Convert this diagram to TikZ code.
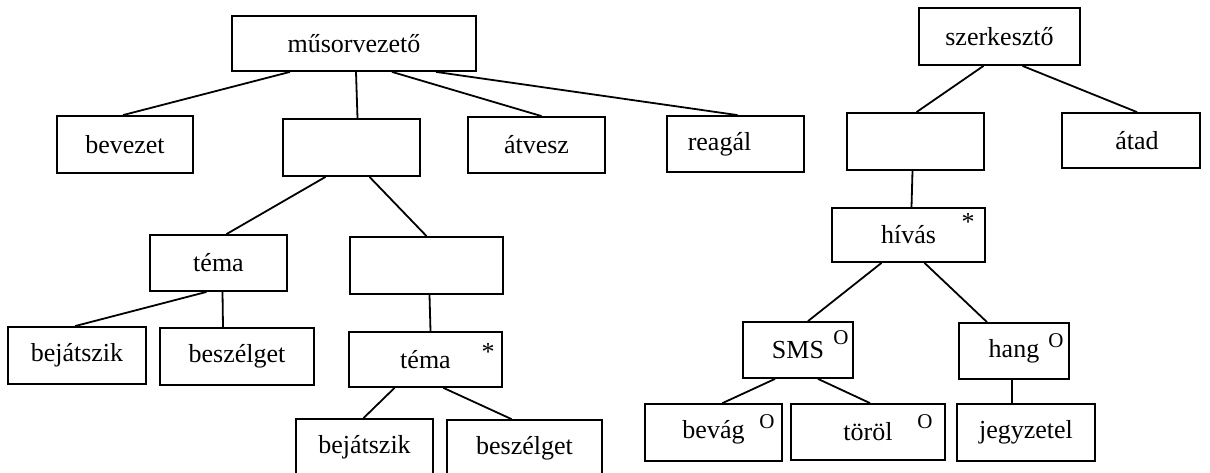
\documentclass[tikz,border=0pt]{standalone}
\usepackage{fontspec}
\setmainfont{Liberation Serif}
\usetikzlibrary{positioning, calc}

\begin{document}
\begin{tikzpicture}[
    x=1pt, y=-1pt,
    box/.style={rectangle, draw=black, line width=1.8pt, inner sep=0pt, font=\fontsize{26}{30}\selectfont},
    omark/.style={inner sep=0pt, font=\fontsize{21}{24}\selectfont},
    star/.style={inner sep=0pt, font=\fontsize{26}{30}\selectfont},
    link/.style={line width=1.8pt},
]
\path[use as bounding box, clip] (0,0) rectangle (1210,472);
% MUSORVEZETO
\node[box, minimum width=244pt, minimum height=55pt] (mu) at (354,43.5) {műsorvezető};
\node[box, minimum width=136pt, minimum height=57pt] (bev) at (125,144.5) {bevezet};
\node[box, minimum width=137pt, minimum height=57pt] (b1) at (351.5,147.5) {};
\node[box, minimum width=137pt, minimum height=56pt] (atv) at (536.5,145) {átvesz};
\node[box, minimum width=137pt, minimum height=56pt] (rea) at (735.5,144) {\hspace*{-32pt}reagál};
\node[box, minimum width=137pt, minimum height=56pt] (tem1) at (218.5,263) {téma};
\node[box, minimum width=153pt, minimum height=57pt] (b2) at (426.5,265.5) {};
\node[box, minimum width=138pt, minimum height=57pt] (bej1) at (77,355.5) {bejátszik};
\node[box, minimum width=154pt, minimum height=57pt] (besz1) at (237,356.5) {beszélget};
\node[box, minimum width=153pt, minimum height=55pt] (tem2) at (425.5,359.5) {téma};
\node[star] (tem2-s) at (488,352) {*};
\node[box, minimum width=137pt, minimum height=56pt] (bej2) at (364.5,447) {bejátszik};
\node[box, minimum width=155pt, minimum height=56pt] (besz2) at (524.5,448) {beszélget};
% Vonalak
\draw[link] ([xshift=-64pt]mu.south) -- ([xshift=-2pt]bev.north);
\draw[link] ([xshift=2pt]mu.south) -- ([xshift=6pt]b1.north);
\draw[link] ([xshift=38pt]mu.south) -- ([xshift=5pt]atv.north);
\draw[link] ([xshift=82pt]mu.south) -- ([xshift=2pt]rea.north);
\draw[link] ([xshift=-26pt]b1.south) -- ([xshift=8pt]tem1.north);
\draw[link] ([xshift=18pt]b1.south) -- (b2.north);
\draw[link] ([xshift=-12pt]tem1.south) -- ([xshift=-2pt]bej1.north);
\draw[link] ([xshift=4pt]tem1.south) -- ([xshift=-14pt]besz1.north);
\draw[link] ([xshift=3pt]b2.south) -- ([xshift=5pt]tem2.north);
\draw[link] ([xshift=-31pt]tem2.south) -- ([xshift=-1pt]bej2.north);
\draw[link] ([xshift=18pt]tem2.south) -- ([xshift=-13pt]besz2.north);
% SZERKESZTO
\node[box, minimum width=161pt, minimum height=57pt] (sze) at (999.5,36.5) {szerkesztő};
\node[box, minimum width=137pt, minimum height=57pt] (b3) at (915.5,141.5) {};
\node[box, minimum width=138pt, minimum height=55pt] (ata) at (1131,140.5) {\hspace*{12pt}átad};
\node[box, minimum width=153pt, minimum height=54pt] (hiv) at (908.5,235) {hívás};
\node[star] (hiv-s) at (968,222) {*};
\node[box, minimum width=110pt, minimum height=56pt] (sms) at (798,350) {SMS};
\node[omark] (sms-o) at (841,338) {O};
\node[box, minimum width=110pt, minimum height=56pt] (hang) at (1014,351) {hang};
\node[omark] (hang-o) at (1056,341) {O};
\node[box, minimum width=137pt, minimum height=57pt] (bevag) at (713.5,432.5) {bevág};
\node[omark] (bevag-o) at (767,422) {O};
\node[box, minimum width=154pt, minimum height=56pt] (tor) at (868,432) {töröl};
\node[omark] (tor-o) at (925,422) {O};
\node[box, minimum width=138pt, minimum height=57pt] (jegy) at (1026,432.5) {jegyzetel};
% Vonalak
\draw[link] ([xshift=-16pt]sze.south) -- ([xshift=1pt]b3.north);
\draw[link] ([xshift=23pt]sze.south) -- ([xshift=6pt]ata.north);
\draw[link] ([xshift=-3pt]b3.south) -- ([xshift=3pt]hiv.north);
\draw[link] ([xshift=-27pt]hiv.south) -- ([xshift=10pt]sms.north);
\draw[link] ([xshift=16pt]hiv.south) -- ([xshift=-27pt]hang.north);
\draw[link] ([xshift=-23pt]sms.south) -- ([xshift=9pt]bevag.north);
\draw[link] ([xshift=20pt]sms.south) -- ([xshift=2pt]tor.north);
\draw[link] ([xshift=-2pt]hang.south) -- ([xshift=-14pt]jegy.north);
\end{tikzpicture}
\end{document}
